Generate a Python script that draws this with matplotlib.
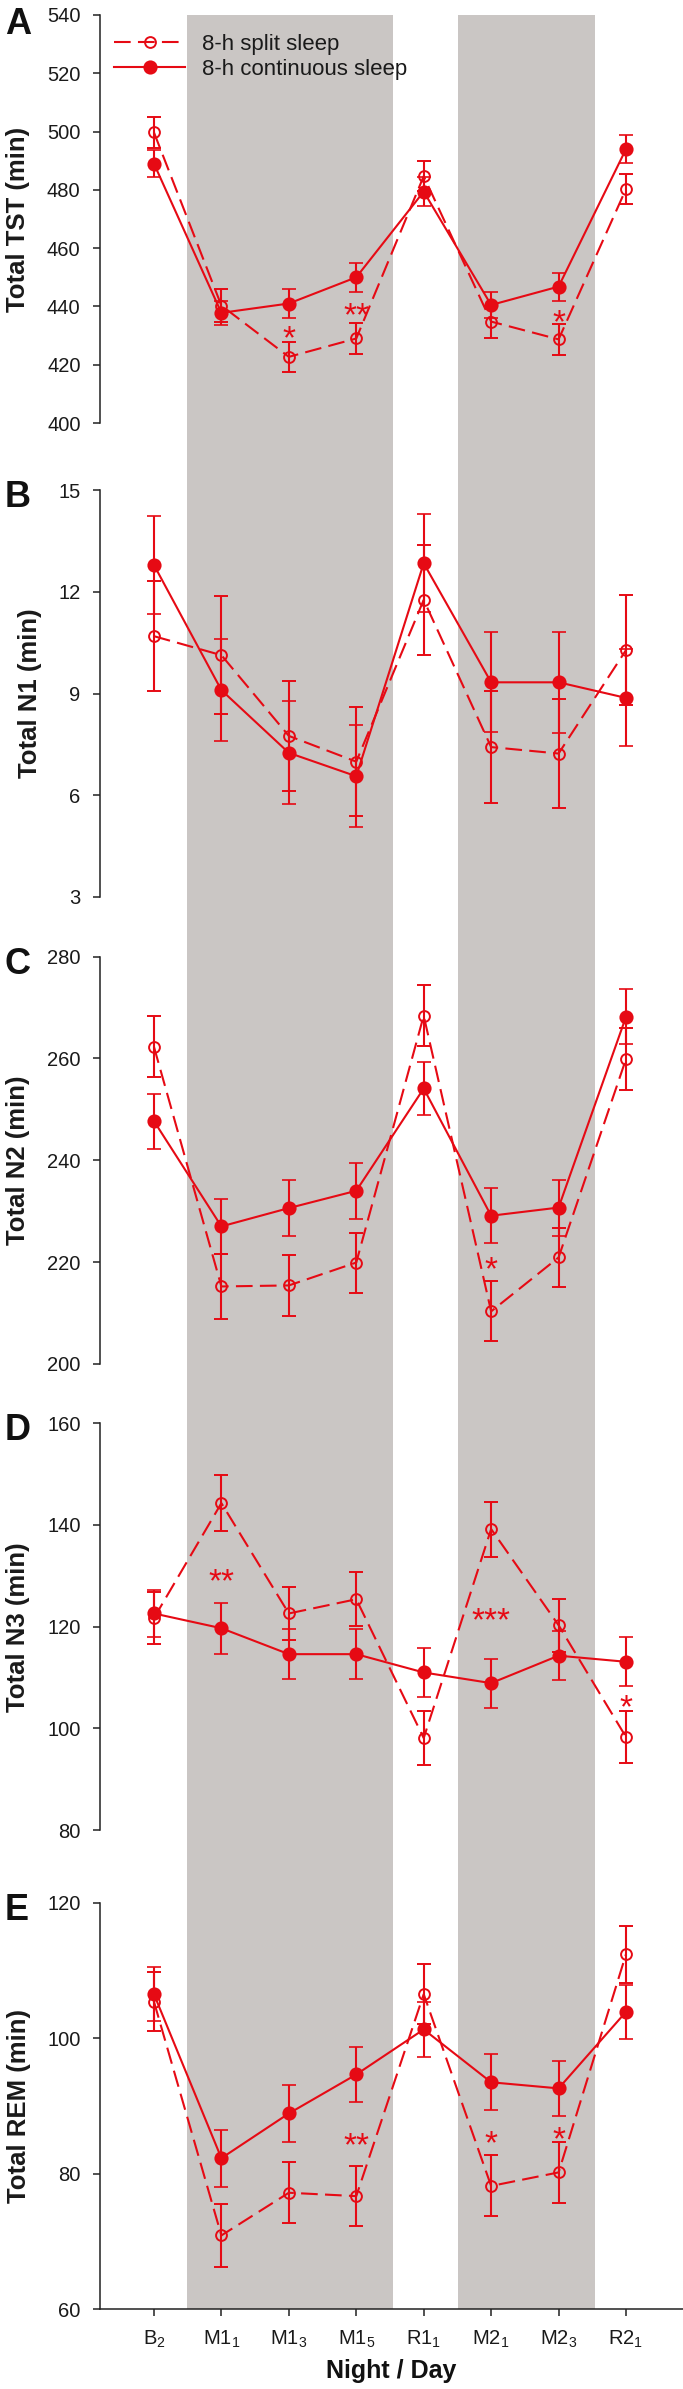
import matplotlib
matplotlib.use('Agg')
import matplotlib.pyplot as plt
from matplotlib.transforms import offset_copy
from matplotlib.lines import Line2D

plt.rcParams['font.family'] = ['Liberation Sans', 'DejaVu Sans']
plt.rcParams['mathtext.fontset'] = 'custom'
plt.rcParams['mathtext.rm'] = 'Liberation Sans'
plt.rcParams['mathtext.it'] = 'Liberation Sans'
plt.rcParams['mathtext.bf'] = 'Liberation Sans:bold'

# ---------------- data ----------------
nights = [r'$\mathregular{B_2}$', r'$\mathregular{M1_1}$', r'$\mathregular{M1_3}$',
          r'$\mathregular{M1_5}$', r'$\mathregular{R1_1}$', r'$\mathregular{M2_1}$',
          r'$\mathregular{M2_3}$', r'$\mathregular{R2_1}$']

tst_split = [499.7, 440.3, 422.7, 429.0, 484.7, 434.8, 428.7, 480.3]
tst_split_se = [5.2, 5.8, 5.2, 5.3, 5.2, 5.5, 5.3, 5.3]
tst_cont = [489.0, 437.8, 441.0, 450.0, 479.4, 440.5, 446.8, 494.0]
tst_cont_se = [4.7, 4.2, 5.0, 5.0, 5.0, 4.5, 4.8, 4.7]

n1_split = [10.69, 10.13, 7.75, 6.99, 11.76, 7.42, 7.23, 10.28]
n1_split_se = [1.62, 1.73, 1.62, 1.60, 1.63, 1.64, 1.60, 1.62]
n1_cont = [12.79, 9.10, 7.25, 6.56, 12.84, 9.33, 9.33, 8.87]
n1_cont_se = [1.45, 1.50, 1.52, 1.50, 1.45, 1.47, 1.49, 1.43]

n2_split = [262.3, 215.2, 215.4, 219.9, 268.4, 210.3, 220.9, 259.9]
n2_split_se = [6.0, 6.3, 6.0, 5.9, 6.0, 5.9, 5.8, 6.0]
n2_cont = [247.7, 227.0, 230.6, 234.0, 254.1, 229.1, 230.7, 268.2]
n2_cont_se = [5.4, 5.4, 5.5, 5.5, 5.3, 5.4, 5.5, 5.4]

n3_split = [121.7, 144.3, 122.6, 125.4, 98.1, 139.2, 120.3, 98.3]
n3_split_se = [5.1, 5.5, 5.3, 5.3, 5.3, 5.4, 5.2, 5.2]
n3_cont = [122.6, 119.7, 114.6, 114.6, 111.0, 108.9, 114.3, 113.1]
n3_cont_se = [4.7, 5.0, 4.9, 4.9, 4.8, 4.8, 4.8, 4.85]

rem_split = [105.4, 70.9, 77.2, 76.7, 106.5, 78.2, 80.2, 112.4]
rem_split_se = [4.4, 4.7, 4.5, 4.4, 4.4, 4.5, 4.5, 4.2]
rem_cont = [106.5, 82.3, 88.9, 94.65, 101.3, 93.5, 92.6, 103.9]
rem_cont_se = [4.0, 4.2, 4.2, 4.1, 4.1, 4.1, 4.1, 4.0]

series_names = ['8-h split sleep', '8-h continuous sleep']
panel_letters = ['A', 'B', 'C', 'D', 'E']
ylabels = ['Total TST (min)', 'Total N1 (min)', 'Total N2 (min)',
           'Total N3 (min)', 'Total REM (min)']
ylims = [(400, 540), (3, 15), (200, 280), (80, 160), (60, 120)]
ysteps = [20, 3, 20, 20, 20]

# significance markers: (panel index, night index, y value, text)
stars = [(0, 2, 432.3, '*'), (0, 3, 440.0, '**'), (0, 6, 437.7, '*'),
         (2, 5, 220.4, '*'),
         (3, 1, 130.7, '**'), (3, 5, 123.1, '***'), (3, 7, 106.0, '*'),
         (4, 3, 85.6, '**'), (4, 5, 85.9, '*'), (4, 6, 86.4, '*')]

# manipulation periods (shaded), in night-index units
shade_spans = [(0.49, 3.545), (4.51, 6.54)]

series = [
    (tst_split, tst_split_se, tst_cont, tst_cont_se),
    (n1_split, n1_split_se, n1_cont, n1_cont_se),
    (n2_split, n2_split_se, n2_cont, n2_cont_se),
    (n3_split, n3_split_se, n3_cont, n3_cont_se),
    (rem_split, rem_split_se, rem_cont, rem_cont_se),
]

# ---------------- layout ----------------
W, H = 683, 2389
DPI = 100
fig = plt.figure(figsize=(W / DPI, H / DPI), dpi=DPI)

def fx(px):
    return px / W

def fy(py):
    return 1 - py / H

RED = '#E60A14'
GRAY = '#CAC6C4'
DARK = '#222222'
DASH = (0, (8, 3.5))

split_style = dict(color=RED, lw=1.5, ls=DASH, marker='o', ms=7.8, mfc='none',
                   mec=RED, mew=1.4)
cont_style = dict(color=RED, lw=1.5, ls='-', marker='o', ms=9.0, mfc=RED,
                  mec=RED, mew=1.2)

left_px, right_px = 100, 683
panel_px = [(15, 423), (490, 897), (956.7, 1363.8), (1423.3, 1830.1), (1902.7, 2309.3)]
xlim = (-0.80, 7.845)

# background axes for shading
bg = fig.add_axes([fx(left_px), fy(panel_px[-1][1]), fx(right_px) - fx(left_px),
                   fy(panel_px[0][0]) - fy(panel_px[-1][1])], zorder=0)
bg.set_xlim(*xlim)
bg.set_ylim(0, 1)
bg.axis('off')
for a, b in shade_spans:
    bg.axvspan(a, b, color=GRAY, lw=0)

x = list(range(len(nights)))
axes = []
for i, (top, bot) in enumerate(panel_px):
    ax = fig.add_axes([fx(left_px), fy(bot), fx(right_px) - fx(left_px), fy(top) - fy(bot)],
                      zorder=1)
    ax.set_facecolor('none')
    axes.append(ax)
    sp, sp_se, co, co_se = series[i]

    ax.errorbar(x, sp, yerr=sp_se, ecolor=RED, elinewidth=1.5, capsize=5,
                capthick=1.5, clip_on=False, zorder=3, **split_style)
    ax.errorbar(x, co, yerr=co_se, ecolor=RED, elinewidth=1.5, capsize=5,
                capthick=1.5, clip_on=False, zorder=4, **cont_style)

    lo, hi = ylims[i]
    ax.set_xlim(*xlim)
    ax.set_ylim(lo, hi)
    ticks = []
    v = lo
    while v <= hi + 1e-9:
        ticks.append(v)
        v += ysteps[i]
    ax.set_yticks(ticks)
    ax.set_yticklabels([f'{t:g}' for t in ticks])

    for s in ['top', 'right']:
        ax.spines[s].set_visible(False)
    ax.spines['left'].set_color(DARK)
    ax.spines['left'].set_linewidth(1.1)
    ax.tick_params(axis='y', direction='out', length=5, width=1.1, color=DARK,
                   labelsize=14.5, pad=9, labelcolor='#1a1a1a')
    if i < 4:
        ax.spines['bottom'].set_visible(False)
        ax.set_xticks([])
    else:
        ax.spines['bottom'].set_color(DARK)
        ax.spines['bottom'].set_linewidth(1.1)
        ax.set_xticks(x)
        ax.set_xticklabels(nights)
        ax.tick_params(axis='x', direction='out', length=5, width=1.1, color=DARK,
                       labelsize=14.5, pad=9, labelcolor='#1a1a1a')

    ax.set_ylabel(ylabels[i], fontsize=18.5, fontweight='bold', labelpad=12,
                  color='#1a1a1a')

    # panel letter
    letter_top = top - 10 if i > 0 else 7
    fig.text(fx(5), fy(letter_top), panel_letters[i], fontsize=26, fontweight='bold',
             ha='left', va='top', color='#111111')

# significance stars
STAR_FS = 24
for (pi, ni, yv, txt) in stars:
    ax = axes[pi]
    tr = offset_copy(ax.transData, fig=fig, y=-0.58 * STAR_FS, units='points')
    ax.text(ni, yv, txt, transform=tr, ha='center', va='baseline',
            fontsize=STAR_FS, color=RED, zorder=5)

# legend drawn by hand (line + marker, then label)
legend_rows_px = [42, 67]
for name, style, ry in zip(series_names, [split_style, cont_style], legend_rows_px):
    line_kw = {k: v for k, v in style.items() if not k.startswith('m')}
    fig.add_artist(Line2D([fx(114), fx(185)], [fy(ry), fy(ry)],
                          transform=fig.transFigure, **line_kw))
    mk_kw = {k: v for k, v in style.items() if k not in ('ls', 'lw')}
    fig.add_artist(Line2D([fx(150)], [fy(ry)], transform=fig.transFigure,
                          ls='none', **mk_kw))
    fig.text(fx(202), fy(ry + 8), name, fontsize=16, ha='left', va='baseline',
             color='#1a1a1a')

# x label
fig.text(fx(391), fy(2378), 'Night / Day', fontsize=18, fontweight='bold',
         ha='center', va='baseline', color='#111111')

fig.savefig('out.png', dpi=DPI)
